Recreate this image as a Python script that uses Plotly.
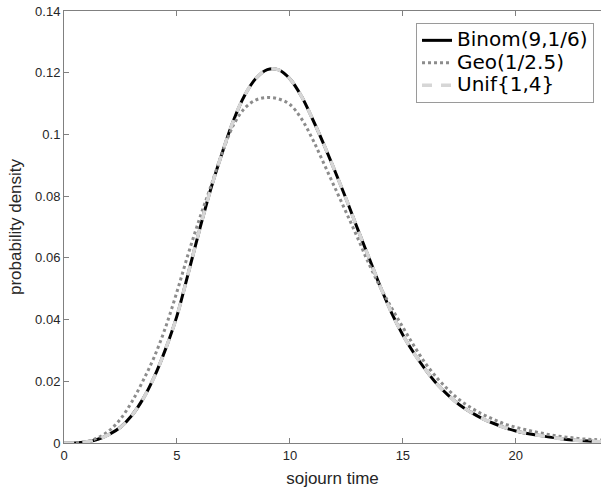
import plotly.graph_objects as go

# sojourn time grid
x_vals = [0, 0.5, 1, 1.5, 2, 2.5, 3, 3.5, 4, 4.5, 5, 5.5, 6, 6.5, 7, 7.5, 8, 8.5, 9, 9.5,
          10, 10.5, 11, 11.5, 12, 12.5, 13, 13.5, 14, 14.5, 15, 15.5, 16, 16.5, 17, 17.5,
          18, 18.5, 19, 19.5, 20, 20.5, 21, 21.5, 22, 22.5, 23, 23.5, 24]

binom = [0.0, 0.0000, 0.0004, 0.0012, 0.0028, 0.0051, 0.0089, 0.0143, 0.0215, 0.0305,
         0.0412, 0.0550, 0.0691, 0.0824, 0.0940, 0.1045, 0.1127, 0.1182, 0.1210, 0.1209,
         0.1180, 0.1125, 0.1050, 0.0968, 0.0880, 0.0789, 0.0693, 0.0600, 0.0507, 0.0422,
         0.0350, 0.0290, 0.0238, 0.0192, 0.0155, 0.0124, 0.0100, 0.0080, 0.0064, 0.0050,
         0.0039, 0.0031, 0.0025, 0.0019, 0.0014, 0.0010, 0.0007, 0.0005, 0.0004]

geo = [0.0, 0.0001, 0.0004, 0.0017, 0.0040, 0.0078, 0.0133, 0.0202, 0.0280, 0.0376,
       0.0490, 0.0613, 0.0727, 0.0832, 0.0940, 0.1030, 0.1085, 0.1112, 0.1120, 0.1115,
       0.1097, 0.1052, 0.0985, 0.0906, 0.0826, 0.0746, 0.0664, 0.0580, 0.0505, 0.0438,
       0.0375, 0.0314, 0.0258, 0.0212, 0.0173, 0.0140, 0.0115, 0.0094, 0.0077, 0.0062,
       0.0051, 0.0042, 0.0034, 0.0027, 0.0021, 0.0017, 0.0013, 0.0011, 0.0009]

unif = [0.0, 0.0000, 0.0004, 0.0012, 0.0028, 0.0051, 0.0089, 0.0143, 0.0215, 0.0305,
        0.0412, 0.0550, 0.0691, 0.0824, 0.0940, 0.1045, 0.1127, 0.1182, 0.1210, 0.1209,
        0.1180, 0.1125, 0.1050, 0.0968, 0.0880, 0.0789, 0.0693, 0.0600, 0.0507, 0.0422,
        0.0350, 0.0290, 0.0238, 0.0192, 0.0155, 0.0124, 0.0100, 0.0080, 0.0064, 0.0050,
        0.0039, 0.0031, 0.0025, 0.0019, 0.0014, 0.0010, 0.0007, 0.0005, 0.0004]

names = ["Binom(9,1/6)", "Geo(1/2.5)", "Unif{1,4}"]
x_ticks = [0, 5, 10, 15, 20]
y_ticks = [0, 0.02, 0.04, 0.06, 0.08, 0.1, 0.12, 0.14]
y_tick_text = ["0", "0.02", "0.04", "0.06", "0.08", "0.1", "0.12", "0.14"]

FONT = "Liberation Sans, Arial, sans-serif"
LEG_FONT = "DejaVu Sans, " + FONT


def leg_name(s):
    return '<span style="font-size:20px">' + s + '</span>'


fig = go.Figure()
fig.add_trace(go.Scatter(x=x_vals, y=binom, name=leg_name(names[0]), mode="lines",
                         line=dict(color="black", width=3, shape="spline", smoothing=1.0)))
fig.add_trace(go.Scatter(x=x_vals, y=geo, name=leg_name(names[1]), mode="lines",
                         line=dict(color="#8c8c8c", width=3, dash="dot", shape="spline", smoothing=1.0)))
fig.add_trace(go.Scatter(x=x_vals, y=unif, name=leg_name(names[2]), mode="lines",
                         line=dict(color="#d6d6d6", width=3.5, dash="10px,9px", shape="spline", smoothing=1.0)))

fig.update_layout(
    width=601, height=491,
    margin=dict(l=64, r=0, t=11, b=48),
    paper_bgcolor="white", plot_bgcolor="white",
    font=dict(family=FONT, color="#262626", size=13),
    showlegend=True,
    legend=dict(x=0.987, y=0.972, xanchor="right", yanchor="top",
                bgcolor="white", bordercolor="#9a9a9a", borderwidth=1,
                font=dict(family=LEG_FONT, size=15, color="black"),
                itemwidth=30, tracegroupgap=0),
    xaxis=dict(range=[0, 23.77], tickvals=x_ticks, showgrid=False, zeroline=False,
               automargin=False,
               showline=True, linecolor="#808080", linewidth=1, mirror="allticks",
               ticks="inside", ticklen=5, tickcolor="#808080",
               tickfont=dict(size=13),
               title=dict(text="sojourn time", font=dict(size=17), standoff=10)),
    yaxis=dict(range=[0, 0.14], tickvals=y_ticks, ticktext=y_tick_text, showgrid=False,
               automargin=False,
               zeroline=False, showline=True, linecolor="#808080", linewidth=1,
               mirror=False, ticks="inside", ticklen=5, tickcolor="#808080",
               tickfont=dict(size=13),
               title=dict(text="probability density", font=dict(size=17), standoff=9)),
)

fig.write_html("out.html", config={"displayModeBar": False},
               post_script="document.body.style.margin='0';")
